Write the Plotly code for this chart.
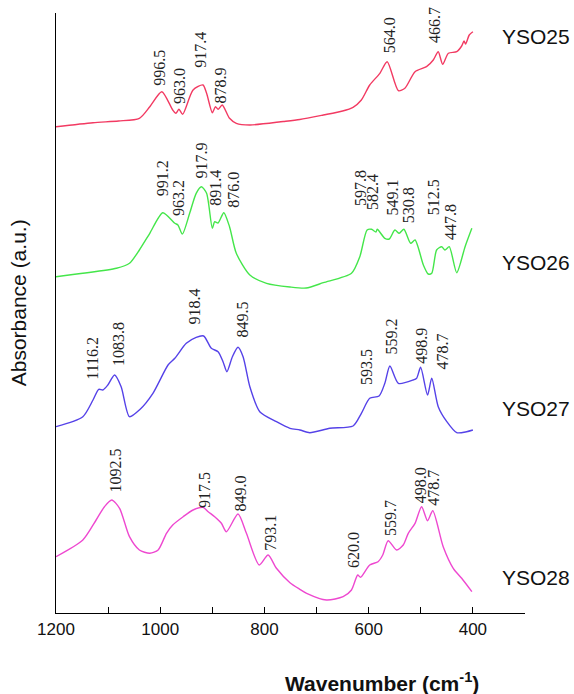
import plotly.graph_objects as go

# ---------------- data ----------------
wn_25 = [1200, 1129, 1080, 1040, 1020, 997, 976, 970, 964, 957, 937, 918, 911, 900, 894, 889, 881, 867, 854, 828,
         764, 732, 687, 650, 630, 614, 598, 578.5, 564.5, 543, 530.5, 511, 489, 476, 466.5, 458, 447, 431, 421.5,
         417, 414, 407, 400]
abs_25 = [486.3, 490.3, 492, 494.7, 506.3, 521.3, 503, 499.7, 503.7, 498.7, 523, 528, 519.7, 500.3, 506.3, 503.7,
          508, 494.7, 489.7, 488, 491.5, 493.5, 498, 502, 505.7, 513, 528, 539.7, 551.3, 522.3, 524.7, 541.3,
          546.3, 553, 561.3, 548.7, 559.7, 561.3, 567, 572, 569, 578, 581.3]

wn_26 = [1200, 1148.5, 1084, 1059, 1040, 1020, 995, 972, 966, 957.5, 943.5, 931, 921, 911, 900, 895.5, 889, 878,
         867, 854, 828, 796, 751, 720, 687, 633, 617, 603, 594.5, 586, 583.5, 569, 560.5, 549.7, 541.4, 532.4,
         519.5, 511, 495, 485.7, 479, 469.6, 460, 453.6, 445.4, 431, 415, 402]
abs_26 = [336.3, 339.7, 344.7, 349.7, 363, 379.7, 400.3, 389.7, 388, 379, 399.7, 419.7, 426.3, 419.7, 384.7, 391.3,
          390, 400.3, 386.3, 359.7, 338, 329.7, 326, 325, 330.3, 339.7, 356.3, 383, 383.7, 381, 383.7, 374.7, 374,
          383, 379.7, 383.7, 369.7, 373, 348, 339, 339.7, 363, 366.3, 363, 366.3, 340.3, 366.3, 384.7]

wn_27 = [1200, 1148.5, 1129, 1118, 1110, 1100.5, 1087.6, 1075, 1059, 1040, 1014, 985, 972, 950, 931, 916.6, 902,
         889, 879.5, 872, 861.5, 850.7, 841, 828, 809, 777, 751, 732, 713, 674.6, 630, 614, 598, 580, 569, 559.3,
         543, 514.5, 508, 500.3, 487, 479, 466.5, 450, 431, 412, 400]
abs_27 = [186.3, 196.3, 213, 223.7, 223, 228, 238, 226.3, 196.3, 203, 219.7, 248, 254.7, 269.7, 275.7, 277, 264.7,
          261.3, 251.3, 241.3, 256.3, 265.7, 256.3, 226.3, 201.3, 191.3, 184.7, 183, 180.3, 184.7, 187, 199.7,
          214.7, 217, 229.7, 247, 229.7, 233, 234.7, 245.7, 218, 234.7, 206.3, 191.3, 180.3, 181.3, 183]

wn_28 = [1200, 1148.5, 1123, 1107, 1093, 1078, 1059, 1040, 1020, 1004, 988, 976, 956, 937, 918, 908, 895.5, 882.6,
         873, 850.7, 834.6, 810, 793, 777, 751, 732, 719, 681, 649, 633, 621, 615.6, 598, 582, 573, 562.6, 546.4,
         533.7, 524, 511, 498.4, 487, 477, 457, 437.7, 421.5, 402]
abs_28 = [56.3, 73, 93, 106.3, 113, 104.7, 76.3, 63, 59.7, 63, 79.7, 88, 96.3, 103, 105.7, 101.3, 96.3, 89.7, 81.3,
          99, 79.7, 48, 58, 44.7, 30.3, 23.7, 19.7, 13, 16.3, 23, 38, 35.7, 48, 51.3, 58, 72.3, 63, 68, 79.7, 89.7,
          106.3, 92.3, 102.3, 66.3, 44.7, 34.7, 21.3]

samples = ["YSO25", "YSO26", "YSO27", "YSO28"]
sample_label_y = [577, 351, 205, 36]
colors = ["#f23a62", "#44e64a", "#5542e8", "#ee48d0"]

# peak labels: text, x position (cm-1), y position (a.u.)
peaks_25 = [("996.5", 1003, 525), ("963.0", 964, 507), ("917.4", 924, 543), ("878.9", 884.5, 508),
            ("564.0", 560.6, 558), ("466.7", 474.7, 568)]
peaks_26 = [("991.2", 996, 415), ("963.2", 966, 395), ("917.9", 921, 433), ("891.4", 895.5, 405),
            ("876.0", 861, 403), ("597.8", 616.5, 405), ("582.4", 593.5, 401), ("549.1", 556, 395),
            ("530.8", 524, 388), ("512.5", 476, 396), ("447.8", 444, 371)]
peaks_27 = [("1116.2", 1130.5, 231), ("1083.8", 1081, 245), ("918.4", 936, 286), ("849.5", 844, 273),
            ("593.5", 605, 226), ("559.2", 558, 256), ("498.9", 500, 247), ("478.7", 460, 241)]
peaks_28 = [("1092.5", 1087.6, 118), ("917.5", 916, 103), ("849.0", 846, 100), ("793.1", 790, 60),
            ("620.0", 630, 43), ("559.7", 559, 75), ("498.0", 501, 108), ("478.7", 477, 105)]

# ---------------- figure ----------------
fig = go.Figure()
series = [(wn_25, abs_25), (wn_26, abs_26), (wn_27, abs_27), (wn_28, abs_28)]
for (x, y), name, c in zip(series, samples, colors):
    fig.add_trace(go.Scatter(x=x, y=y, mode="lines", name=name,
                             line=dict(color=c, width=1.4, shape="spline", smoothing=0.7),
                             showlegend=False))

annotations = []
for plist in (peaks_25, peaks_26, peaks_27, peaks_28):
    for txt, xv, yv in plist:
        annotations.append(dict(x=xv, y=yv, xref="x", yref="y", text=txt, showarrow=False,
                                textangle=-90, xanchor="center", yanchor="bottom",
                                font=dict(family="Liberation Serif", size=16, color="#222")))

for name, yv in zip(samples, sample_label_y):
    annotations.append(dict(x=348, y=yv, xref="x", yref="y", text=name, showarrow=False,
                            xanchor="left", yanchor="middle",
                            font=dict(family="Liberation Sans", size=21, color="#111")))

annotations.append(dict(x=0.695, y=-0.115, xref="paper", yref="paper",
                        text="<b>Wavenumber (cm<sup>-1</sup>)</b>", showarrow=False,
                        xanchor="center", yanchor="middle",
                        font=dict(family="Liberation Sans", size=21, color="#111")))
annotations.append(dict(x=-0.08, y=0.517, xref="paper", yref="paper",
                        text="Absorbance (a.u.)", showarrow=False, textangle=-90,
                        xanchor="center", yanchor="middle",
                        font=dict(family="Liberation Sans", size=21, color="#111")))

fig.update_layout(
    width=574, height=694,
    margin=dict(l=56, r=49, t=13, b=81),
    paper_bgcolor="white", plot_bgcolor="white",
    annotations=annotations,
    xaxis=dict(range=[1200, 300], tickmode="linear", tick0=0, dtick=200,
               ticks="inside", ticklen=6, tickcolor="black", tickwidth=1,
               minor=dict(dtick=100, tick0=0, ticks="inside", ticklen=6, tickcolor="black", tickwidth=1,
                          showgrid=False),
               showline=True, linecolor="black", linewidth=1.2, showgrid=False, zeroline=False,
               tickfont=dict(family="Liberation Sans", size=17, color="#111")),
    yaxis=dict(range=[0, 600], showticklabels=False, ticks="", showline=True, linecolor="black",
               linewidth=1.2, showgrid=False, zeroline=False),
)

fig.write_html("out.html", config={"displayModeBar": False},
               post_script="document.body.style.margin='0px';document.body.style.overflow='hidden';")
